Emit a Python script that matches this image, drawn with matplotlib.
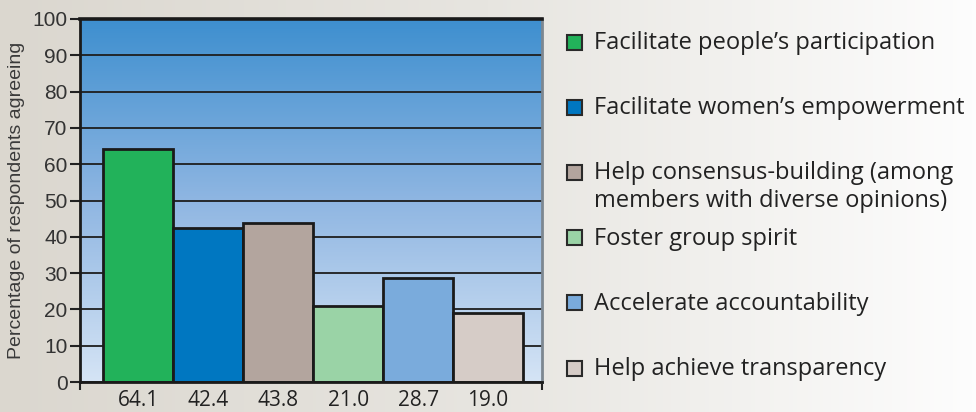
import matplotlib.pyplot as plt
import numpy as np
from matplotlib.colors import LinearSegmentedColormap
from matplotlib.patches import Rectangle

# data
categories = ["Facilitate people\u2019s participation",
              "Facilitate women\u2019s empowerment",
              "Help consensus-building (among\nmembers with diverse opinions)",
              "Foster group spirit",
              "Accelerate accountability",
              "Help achieve transparency"]
values = [64.1, 42.4, 43.8, 21.0, 28.7, 19.0]
colors = ["#22b25a", "#0077c1", "#b3a59e", "#9ad3a6", "#7aabdc", "#d6ccc7"]

W, H = 976, 412
fig = plt.figure(figsize=(W / 100, H / 100), dpi=100)

# page background, light grey to white
bg = fig.add_axes([0, 0, 1, 1], zorder=-10)
page = LinearSegmentedColormap.from_list("page", ["#dbd7cf", "#e7e5e0", "#fdfdfd"])
bg.imshow(np.linspace(0, 1, 256)[None, :], cmap=page, aspect="auto", extent=[0, 1, 0, 1])
bg.set_xlim(0, 1)
bg.set_ylim(0, 1)
bg.axis("off")

ax = fig.add_axes([80 / W, 1 - 382 / H, 462 / W, 363 / H])
x = np.arange(len(values))
lo, hi = -0.83, 5.77

# blue gradient inside the plot area
sky = LinearSegmentedColormap.from_list("sky", ["#d5e4f5", "#8fb6e2", "#3e8fcf"])
ax.imshow(np.linspace(0, 1, 256)[:, None], cmap=sky, aspect="auto",
          extent=[lo, hi, 0, 100], origin="lower", zorder=0)

ax.bar(x, values, width=1.0, color=colors, edgecolor="#1a1a1a", linewidth=2, zorder=2)

ax.set_xlim(lo, hi)
ax.set_ylim(0, 100)
ax.set_yticks(range(0, 101, 10))
ax.yaxis.grid(True, color="#1e1e1e", linewidth=1.3, zorder=1)
ax.set_axisbelow(True)

ax.set_xticks(x, labels=[f"{v:.1f}" for v in values])
ax.set_xticks([lo, hi], minor=True)
ax.tick_params(axis="x", which="major", length=0, pad=6, labelsize=15, labelcolor="#222")
ax.tick_params(axis="x", which="minor", length=6, width=1.5, color="#222", direction="out")
ax.tick_params(axis="y", direction="out", length=7, width=1.5, color="#222",
               labelsize=15, labelcolor="#333", pad=2)
for lab in ax.get_xticklabels():
    lab.set_fontfamily("Open Sans")
for lab in ax.get_yticklabels():
    lab.set_fontfamily("Liberation Sans")

ax.set_ylabel("Percentage of respondents agreeing", fontsize=14, color="#3a3a3a",
              fontfamily="Liberation Sans", labelpad=5)

for s in ["top", "left", "bottom"]:
    ax.spines[s].set_color("#1a1a1a")
    ax.spines[s].set_linewidth(2)
ax.spines["top"].set_linewidth(2.6)
ax.spines["right"].set_color("#7d8791")
ax.spines["right"].set_linewidth(2)

# legend on the right
for i, (lab, c) in enumerate(zip(categories, colors)):
    yc = 42 + 65.2 * i
    fig.patches.append(Rectangle((567 / W, 1 - (yc + 7.5) / H), 15 / W, 15 / H,
                                 transform=fig.transFigure, facecolor=c,
                                 edgecolor="#2a2a2a", linewidth=1.5))
    for j, line in enumerate(lab.split("\n")):
        fig.text(594 / W, 1 - (yc + 7 + 28 * j) / H, line, fontsize=17, color="#222",
                 fontfamily="Open Sans", va="baseline", ha="left")

fig.savefig("out.png", dpi=100)
